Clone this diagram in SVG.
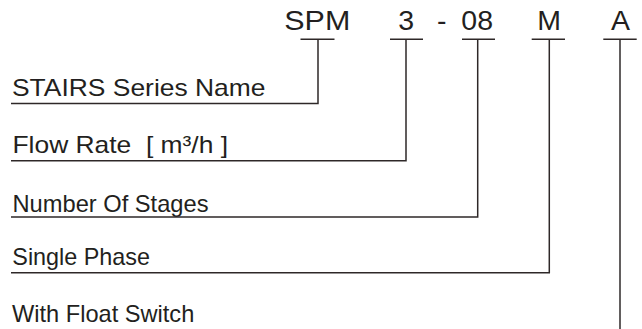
<svg xmlns="http://www.w3.org/2000/svg" width="642" height="329" viewBox="0 0 642 329">
<style>
.code{font-family:"Liberation Sans",Arial,sans-serif;font-size:28.5px;fill:#231f20;text-anchor:middle}
.lbl{font-family:"Liberation Sans",Arial,sans-serif;font-size:24px;fill:#231f20}
.ul{stroke:#2e2828;stroke-width:1.5;fill:none}
.conn{stroke:#2e2828;stroke-width:1.5;fill:none}
</style>
<rect width="642" height="329" fill="#ffffff"/>
<g id="code-SPM"><text class="code" x="317.3" y="29.5" textLength="66" lengthAdjust="spacingAndGlyphs">SPM</text><line class="ul" x1="300.5" y1="39.3" x2="334.5" y2="39.3"/></g>
<g id="code-3"><text class="code" x="406.3" y="29.5">3</text><line class="ul" x1="390" y1="39.3" x2="423" y2="39.3"/></g>
<g id="code-dash"><text class="code" x="441.8" y="29.5">-</text></g>
<g id="code-08"><text class="code" x="477.2" y="29.5">08</text><line class="ul" x1="462" y1="39.3" x2="495" y2="39.3"/></g>
<g id="code-M"><text class="code" x="549" y="29.5">M</text><line class="ul" x1="531.7" y1="39.3" x2="565" y2="39.3"/></g>
<g id="code-A"><text class="code" x="620.5" y="29.5">A</text><line class="ul" x1="603.3" y1="39.3" x2="636.7" y2="39.3"/></g>
<g id="label-series"><text class="lbl" x="12" y="96" textLength="253.5" lengthAdjust="spacingAndGlyphs">STAIRS Series Name</text></g>
<g id="label-flow"><text class="lbl" x="12.5" y="153.3" textLength="215.5" lengthAdjust="spacingAndGlyphs" xml:space="preserve">Flow Rate  [ m³/h ]</text></g>
<g id="label-stages"><text class="lbl" x="12.5" y="212" textLength="196" lengthAdjust="spacingAndGlyphs">Number Of Stages</text></g>
<g id="label-phase"><text class="lbl" x="12.3" y="264.5" textLength="137.7" lengthAdjust="spacingAndGlyphs">Single Phase</text></g>
<g id="label-float"><text class="lbl" x="12" y="321.7" textLength="182.3" lengthAdjust="spacingAndGlyphs">With Float Switch</text></g>
<g id="connectors">
<polyline class="conn" points="318,39.3 318,103.5 11,103.5"/>
<polyline class="conn" points="406,39.3 406,160.7 11,160.7"/>
<polyline class="conn" points="477.7,39.3 477.7,216.9 11,216.9"/>
<polyline class="conn" points="549.3,39.3 549.3,272.7 11,272.7"/>
<line class="conn" x1="620" y1="39.3" x2="620" y2="329"/>
</g>
</svg>
